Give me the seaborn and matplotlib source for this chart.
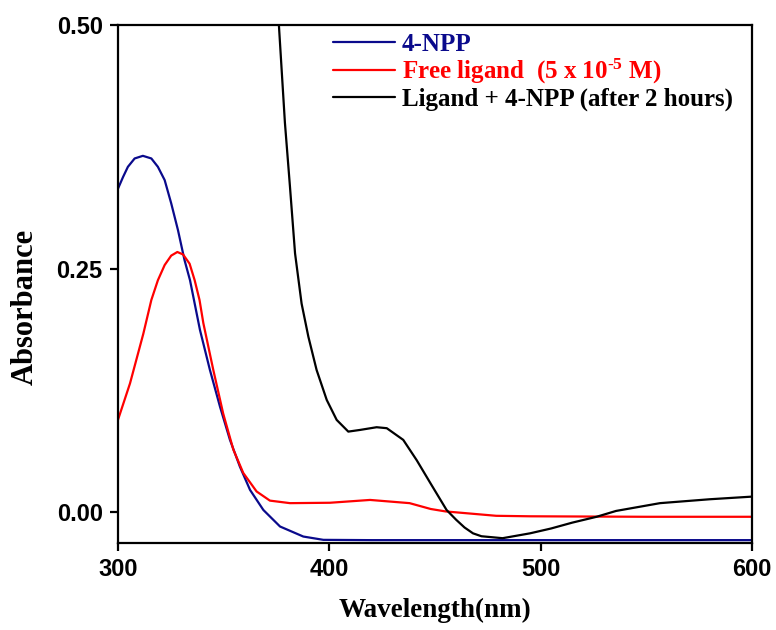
import matplotlib
matplotlib.use("Agg")
import matplotlib.pyplot as plt
import seaborn as sns

# 4-NPP (blue)
npp_wl = [300, 302.4, 304.7, 307.9, 311.8, 315.8, 318.9, 322.1, 325.2, 328.4, 331.5, 334.1,
          338.8, 343.5, 348.3, 353, 357.7, 362.5, 368.8, 376.7, 387.7, 397.2, 420, 450, 500, 550, 600]
npp_abs = [0.332, 0.344, 0.3545, 0.3631, 0.3658, 0.3631, 0.3545, 0.3409, 0.317, 0.2895, 0.2587, 0.238,
           0.187, 0.146, 0.108, 0.074, 0.0465, 0.0226, 0.002, -0.015, -0.0253, -0.0287, -0.029, -0.029,
           -0.029, -0.029, -0.029]

# free ligand (red)
lig_wl = [300, 305.7, 312, 315.8, 318.9, 322.1, 325.2, 328.1, 330.8, 333.9, 336.3, 338.6, 340.4,
          345.1, 349.8, 354.6, 359.3, 365.6, 371.9, 381.4, 400.3, 419.3, 438, 448, 455, 463, 479,
          495, 550, 600]
lig_abs = [0.0945, 0.132, 0.183, 0.2177, 0.238, 0.2536, 0.2633, 0.267, 0.2645, 0.255, 0.238, 0.2177, 0.194,
           0.146, 0.101, 0.064, 0.040, 0.021, 0.0116, 0.009, 0.0094, 0.0123, 0.009, 0.003, 0.0005, -0.001, -0.004,
           -0.0045, -0.005, -0.005]

# ligand + 4-NPP after 2 hours (black)
mix_wl = [374.5, 376.3, 379, 381.4, 383.8, 386.9, 390.1, 394, 398.8, 403.5, 409, 414.5, 422.4,
          427.2, 435, 441.4, 448, 455.5, 460, 464, 468, 472, 482, 495, 505, 515, 526.5, 535.7,
          556.5, 580, 600]
mix_abs = [0.565, 0.495, 0.40, 0.334, 0.2656, 0.214, 0.180, 0.1458, 0.115, 0.0945, 0.0825, 0.0842, 0.087,
           0.086, 0.074, 0.053, 0.029, 0.002, -0.008, -0.016, -0.022, -0.025, -0.027, -0.022, -0.017, -0.011,
           -0.005, 0.001, 0.009, 0.013, 0.0157]

labels = ["4-NPP", "Free ligand  (5 x 10$^{\u20105}$ M)", "Ligand + 4-NPP (after 2 hours)"]
colors = ["#0a0a8c", "#ff0000", "#000000"]

sns.set_style("ticks")
plt.rcParams.update({
    "mathtext.default": "regular",
    "text.color": "black",
    "axes.labelcolor": "black",
    "xtick.color": "black",
    "ytick.color": "black",
})

fig = plt.figure(figsize=(7.76, 6.30), dpi=100)
ax = fig.add_axes([0.152, 0.138, 0.817, 0.822])

sns.lineplot(x=npp_wl, y=npp_abs, ax=ax, color=colors[0], lw=1.6, label=labels[0])
sns.lineplot(x=lig_wl, y=lig_abs, ax=ax, color=colors[1], lw=1.6, label=labels[1])
sns.lineplot(x=mix_wl, y=mix_abs, ax=ax, color=colors[2], lw=1.6, label=labels[2])

ax.set_xlim(300, 600)
ax.set_ylim(-0.032, 0.5)
ax.set_xticks([300, 400, 500, 600])
ax.set_yticks([0.0, 0.25, 0.5])
ax.set_yticklabels(["0.00", "0.25", "0.50"])

for s in ax.spines.values():
    s.set_linewidth(1.6)
    s.set_color("black")
ax.tick_params(direction="out", length=6, width=1.6, pad=5)
for t in ax.get_xticklabels() + ax.get_yticklabels():
    t.set_fontfamily("Liberation Sans")
    t.set_fontweight("bold")
    t.set_fontsize(17)

ax.set_xlabel("Wavelength(nm)", fontfamily="Liberation Serif", fontweight="bold", fontsize=19.5)
ax.set_ylabel("Absorbance", fontfamily="Liberation Serif", fontweight="bold", fontsize=22)
ax.xaxis.set_label_coords(0.5, -0.106)
ax.yaxis.set_label_coords(-0.123, 0.456)

leg = ax.legend(loc="upper left", bbox_to_anchor=(0.339, 0.985), frameon=False,
                borderaxespad=0, borderpad=0,
                handlelength=2.5, handletextpad=0.25, labelspacing=0.05,
                prop={"family": "Liberation Serif", "weight": "bold", "size": 18},
                labelcolor=colors)

fig.savefig("out.png", dpi=100)
